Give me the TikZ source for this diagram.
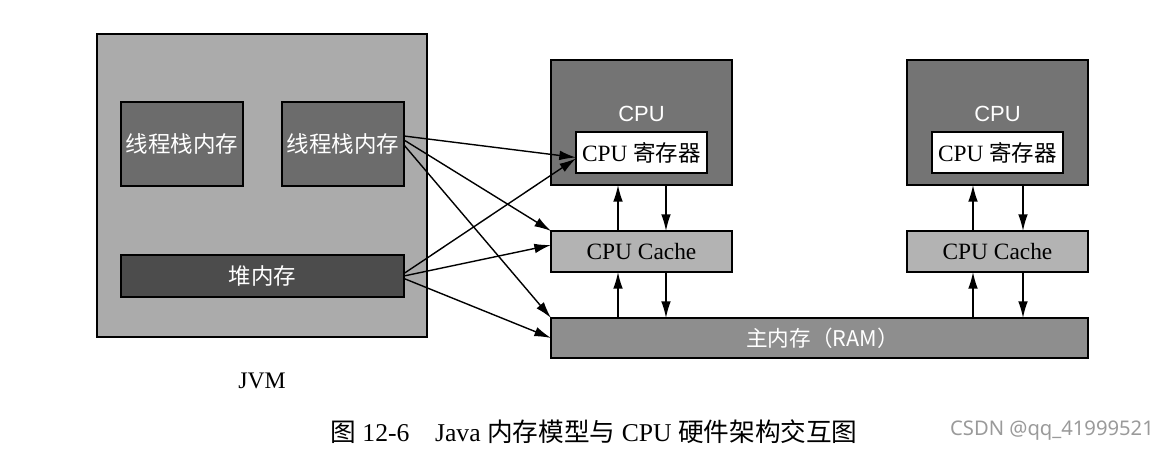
\documentclass[tikz,border=0pt]{standalone}
\usepackage{fontspec}
\setmainfont{Liberation Serif}
\newfontfamily\cjk{Noto Sans CJK SC}
\newfontfamily\arialfont{Liberation Sans}
\newfontfamily\markfont{Noto Sans}
\usetikzlibrary{arrows.meta}

\definecolor{jvmgray}{HTML}{ABABAB}
\definecolor{stackgray}{HTML}{6C6C6C}
\definecolor{heapgray}{HTML}{4C4C4C}
\definecolor{cpugray}{HTML}{747474}
\definecolor{cachegray}{HTML}{B3B3B3}
\definecolor{ramgray}{HTML}{8E8E8E}
\definecolor{markgray}{HTML}{9A9A9A}

\begin{document}
\begin{tikzpicture}[x=0.02cm,y=-0.02cm,
	box/.style={draw,line width=0.9pt,inner sep=0pt,outer sep=0pt},
	arr/.style={line width=0.8pt,-{Latex[length=9.5pt,width=5.5pt]}},
	whitecjk/.style={text=white,font=\cjk\fontsize{12.8}{14}\selectfont},
	serif/.style={font=\fontsize{13.3}{15}\selectfont}]
	\useasboundingbox (0,0) rectangle (1161,455);

	\node[box,fill=jvmgray,minimum width=6.6cm,minimum height=6.06cm] (jvm) at (262,185.5) {};
	\node[box,fill=stackgray,minimum width=2.44cm,minimum height=1.68cm,whitecjk] (stackA) at (182,144) {线程栈内存};
	\node[box,fill=stackgray,minimum width=2.44cm,minimum height=1.68cm,whitecjk] (stackB) at (343,144) {线程栈内存};
	\node[box,fill=heapgray,minimum width=5.66cm,minimum height=0.84cm,whitecjk] (heap) at (262.5,276) {堆内存};
	\node[font=\fontsize{13.5}{15}\selectfont] (jvmlabel) at (262,381) {JVM};

	\node[box,fill=cpugray,minimum width=3.62cm,minimum height=2.5cm] (cpuA) at (641.5,122.5) {};
	\node[text=white,font=\arialfont\fontsize{12.5}{14}\selectfont] (cpuAlabel) at (641.5,114) {CPU};
	\node[box,fill=white,minimum width=2.62cm,minimum height=0.82cm,serif] (regA) at (641.5,152.5) {CPU {\cjk\fontsize{12.8}{14}\selectfont 寄存器}};
	\node[box,fill=cachegray,minimum width=3.62cm,minimum height=0.82cm,serif] (cacheA) at (641.5,251.5) {CPU Cache};

	\node[box,fill=cpugray,minimum width=3.62cm,minimum height=2.5cm] (cpuB) at (997.5,122.5) {};
	\node[text=white,font=\arialfont\fontsize{12.5}{14}\selectfont] (cpuBlabel) at (997.5,114) {CPU};
	\node[box,fill=white,minimum width=2.62cm,minimum height=0.82cm,serif] (regB) at (997.5,152.5) {CPU {\cjk\fontsize{12.8}{14}\selectfont 寄存器}};
	\node[box,fill=cachegray,minimum width=3.62cm,minimum height=0.82cm,serif] (cacheB) at (997.5,251.5) {CPU Cache};

	\node[box,fill=ramgray,minimum width=10.74cm,minimum height=0.8cm,text=white,font=\cjk\fontsize{12.3}{14}\selectfont] (ram) at (819.5,338) {\hspace{0.12cm}主内存（RAM）};

	\draw[arr] ([yshift=0.16cm]stackB.east) -- ([yshift=-0.1cm]regA.west);
	\draw[arr] ([yshift=0.08cm]stackB.east) -- (cacheA.north west);
	\draw[arr] ([yshift=-0.02cm]stackB.east) -- (ram.north west);
	\draw[arr] ([yshift=0.05cm]heap.east) -- ([yshift=-0.12cm]regA.west);
	\draw[arr] (heap.east) -- ([yshift=0.13cm]cacheA.west);
	\draw[arr] ([yshift=-0.05cm]heap.east) -- (ram.west);

	\draw[arr] ([xshift=-0.47cm]cacheA.north) -- ([xshift=-0.47cm]cpuA.south);
	\draw[arr] ([xshift=0.49cm]cpuA.south) -- ([xshift=0.49cm]cacheA.north);
	\draw[arr] ([xshift=-0.47cm]cacheA.south |- ram.north) -- ([xshift=-0.47cm]cacheA.south);
	\draw[arr] ([xshift=0.49cm]cacheA.south) -- ([xshift=0.49cm]cacheA.south |- ram.north);

	\draw[arr] ([xshift=-0.49cm]cacheB.north) -- ([xshift=-0.49cm]cpuB.south);
	\draw[arr] ([xshift=0.51cm]cpuB.south) -- ([xshift=0.51cm]cacheB.north);
	\draw[arr] ([xshift=-0.49cm]cacheB.south |- ram.north) -- ([xshift=-0.49cm]cacheB.south);
	\draw[arr] ([xshift=0.51cm]cacheB.south) -- ([xshift=0.51cm]cacheB.south |- ram.north);

	\node[font=\fontsize{14.6}{16}\selectfont] (caption) at (594,432) {{\cjk 图} 12-6\quad Java {\cjk 内存模型与} CPU {\cjk 硬件架构交互图}};
	\node[text=markgray,font=\markfont\fontsize{11.5}{13}\selectfont] (watermark) at (1052,431) {CSDN @qq\_41999521};
\end{tikzpicture}
\end{document}
